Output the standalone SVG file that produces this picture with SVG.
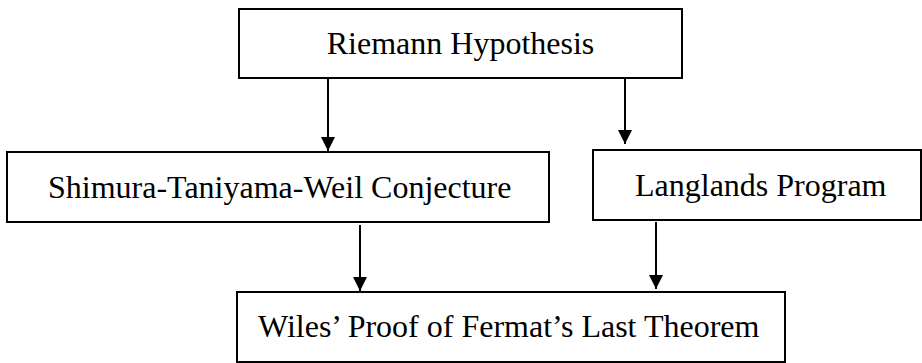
<svg xmlns="http://www.w3.org/2000/svg" width="922" height="363" viewBox="0 0 922 363">
<style>
.box{fill:#fff;stroke:#000;stroke-width:2}
.lbl{font-family:"Liberation Serif","Times New Roman",serif;font-size:32px;fill:#000}
.conn{stroke:#000;stroke-width:2;fill:none}
</style>
<defs>
<marker id="ah" viewBox="0 0 14 14" refX="14" refY="7" markerWidth="14" markerHeight="14" markerUnits="userSpaceOnUse" orient="auto">
<path d="M0,0 L14,7 L0,14 Z" fill="#000"/>
</marker>
</defs>
<rect width="922" height="363" fill="#fff"/>
<g id="riemann">
<rect class="box" x="239" y="9" width="443" height="69"/>
<text class="lbl" x="460.5" y="54" text-anchor="middle">Riemann Hypothesis</text>
</g>
<g id="stw">
<rect class="box" x="7" y="152" width="542" height="70"/>
<text class="lbl" x="48" y="198">Shimura-Taniyama-Weil Conjecture</text>
</g>
<g id="langlands">
<rect class="box" x="593" y="150" width="328" height="70"/>
<text class="lbl" x="635" y="196">Langlands Program</text>
</g>
<g id="wiles">
<rect class="box" x="237" y="292" width="548" height="70"/>
<text class="lbl" x="258" y="337">Wiles’ Proof of Fermat’s Last Theorem</text>
</g>
<g id="connectors">
<line class="conn" x1="328" y1="79" x2="328" y2="151" marker-end="url(#ah)"/>
<line class="conn" x1="625" y1="79" x2="625" y2="144" marker-end="url(#ah)"/>
<line class="conn" x1="360" y1="225" x2="360" y2="291" marker-end="url(#ah)"/>
<line class="conn" x1="656" y1="222" x2="656" y2="289" marker-end="url(#ah)"/>
</g>
</svg>
